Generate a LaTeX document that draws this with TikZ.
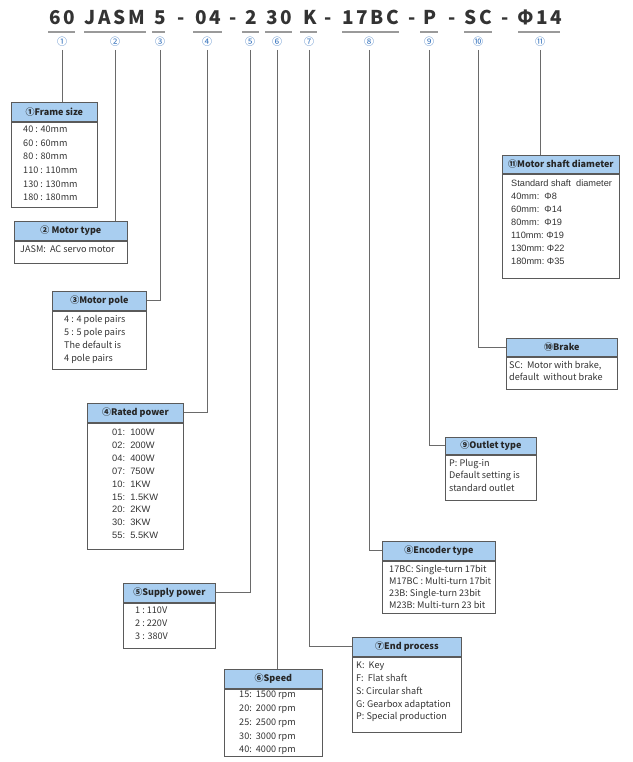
\documentclass[tikz,border=0pt]{standalone}
\usepackage{fontspec}
\setmainfont{Noto Sans CJK SC}
\newfontfamily\arialf{Liberation Sans}
\definecolor{hdrc}{HTML}{A9CEF0}
\definecolor{bordc}{HTML}{5A5A5A}
\definecolor{connc}{HTML}{6A6A6A}
\definecolor{ulc}{HTML}{9A9A9A}
\definecolor{codec}{HTML}{333333}
\definecolor{numc}{HTML}{2F6EBA}
\definecolor{txtc}{HTML}{333333}
\begin{document}
\begin{tikzpicture}[x=1pt,y=-1pt,
  hdr/.style={draw=bordc, fill=hdrc, line width=0.8pt, minimum height=19pt, inner sep=0pt, anchor=north west,
    font=\fontsize{9}{11}\selectfont\bfseries, text=black!85},
  bodyb/.style={draw=bordc, line width=0.8pt, inner sep=0pt, anchor=north west},
  bodyt/.style={inner sep=0pt, anchor=north west, align=left, text=txtc,
    font=\fontsize{9.1}{13}\selectfont},
  conn/.style={draw=connc, line width=0.9pt},
  uline/.style={draw=ulc, line width=1.3pt},
  code/.style={anchor=base, inner sep=0pt, text=codec,
    font=\fontsize{19}{19}\selectfont\bfseries\addfontfeature{LetterSpace=14}},
  num/.style={inner sep=0pt, text=numc, font=\fontsize{10}{10}\selectfont}
]
\useasboundingbox (0,0) rectangle (632,762);

% code line
\node[code] (k1) at (62,25) {60};
\node[code] (k2) at (115,25) {JASM};
\node[code] (k3) at (160,25) {5};
\node[code] (d1) at (181,25) {-};
\node[code] (k4) at (208,25) {04};
\node[code] (d2) at (233,25) {-};
\node[code] (k5) at (251,25) {2};
\node[code] (k6) at (279,25) {30};
\node[code] (k7) at (310,25) {K};
\node[code] (d3) at (328,25) {-};
\node[code] (k8) at (371,25) {17BC};
\node[code] (d4) at (412,25) {-};
\node[code] (k9) at (430,25) {P};
\node[code] (d5) at (452,25) {-};
\node[code] (k10) at (478,25) {SC};
\node[code] (d6) at (505,25) {-};
\node[code] (k11) at (540,25) {Φ14};

% underlines
\draw[uline] (48,32) -- (75,32);
\draw[uline] (84,32) -- (146,32);
\draw[uline] (152,32) -- (165,32);
\draw[uline] (193,32) -- (222,32);
\draw[uline] (242,32) -- (259,32);
\draw[uline] (265,32) -- (292,32);
\draw[uline] (300,32) -- (317,32);
\draw[uline] (342,32) -- (399,32);
\draw[uline] (420,32) -- (438,32);
\draw[uline] (464,32) -- (492,32);
\draw[uline] (518,32) -- (560,32);

% circled numbers
\node[num] (n1) at (62,42) {①};
\node[num] (n2) at (115,42) {②};
\node[num] (n3) at (160,42) {③};
\node[num] (n4) at (207,42) {④};
\node[num] (n5) at (250,42) {⑤};
\node[num] (n6) at (277,42) {⑥};
\node[num] (n7) at (309,42) {⑦};
\node[num] (n8) at (369,42) {⑧};
\node[num] (n9) at (429,42) {⑨};
\node[num] (n10) at (478,42) {⑩};
\node[num] (n11) at (540,42) {⑪};

\coordinate (c1) at (62,50);
\coordinate (c2) at (115,50);
\coordinate (c3) at (160,50);
\coordinate (c4) at (207,50);
\coordinate (c5) at (250,50);
\coordinate (c6) at (277,50);
\coordinate (c7) at (309,50);
\coordinate (c8) at (369,50);
\coordinate (c9) at (429,50);
\coordinate (c10) at (478,50);
\coordinate (c11) at (540,50);

% 1 Frame size
\node[hdr, minimum width=86pt] (h1) at (11,102) {①Frame size};
\node[bodyb, minimum width=86pt, minimum height=85pt] (b1) at (h1.south west) {};
\node[bodyt, font=\fontsize{9.1}{13.6}\selectfont] (t1) at ([xshift=12pt,yshift=-4pt]b1.north west) {40 : 40mm\\60 : 60mm\\80 : 80mm\\110 : 110mm\\130 : 130mm\\180 : 180mm};

% 2 Motor type
\node[hdr, minimum width=113pt] (h2) at (14,221) {② Motor type};
\node[bodyb, minimum width=113pt, minimum height=22pt] (b2) at (h2.south west) {};
\node[bodyt] (t2) at ([xshift=6pt,yshift=-5pt]b2.north west) {JASM:\ \ AC servo motor};

% 3 Motor pole
\node[hdr, minimum width=94pt] (h3) at (52,291) {③Motor pole};
\node[bodyb, minimum width=94pt, minimum height=58pt] (b3) at (h3.south west) {};
\node[bodyt] (t3) at ([xshift=12pt,yshift=-4pt]b3.north west) {4 : 4 pole pairs\\5 : 5 pole pairs\\The default is\\4 pole pairs};

% 4 Rated power
\node[hdr, minimum width=96pt] (h4) at (87,403) {④Rated power};
\node[bodyb, minimum width=96pt, minimum height=126pt] (b4) at (h4.south west) {};
\node[bodyt, font=\arialf\fontsize{9.3}{12.9}\selectfont] (t4) at ([xshift=25pt,yshift=-6pt]b4.north west) {01:\ \ 100W\\02:\ \ 200W\\04:\ \ 400W\\07:\ \ 750W\\10:\ \ 1KW\\15:\ \ 1.5KW\\20:\ \ 2KW\\30:\ \ 3KW\\55:\ \ 5.5KW};

% 5 Supply power
\node[hdr, minimum width=92pt] (h5) at (123,583) {⑤Supply power};
\node[bodyb, minimum width=92pt, minimum height=45pt] (b5) at (h5.south west) {};
\node[bodyt] (t5) at ([xshift=12pt,yshift=-4pt]b5.north west) {1 :\ 110V\\2 :\ 220V\\3 : 380V};

% 6 Speed
\node[hdr, minimum width=98pt] (h6) at (224,669) {⑥Speed};
\node[bodyb, minimum width=98pt, minimum height=67pt] (b6) at (h6.south west) {};
\node[bodyt, font=\fontsize{9.1}{13.8}\selectfont] (t6) at ([xshift=15pt,yshift=-2pt]b6.north west) {15:\ \ 1500 rpm\\20:\ \ 2000 rpm\\25:\ \ 2500 rpm\\30:\ \ 3000 rpm\\40:\ \ 4000 rpm};

% 7 End process
\node[hdr, minimum width=109pt] (h7) at (352,637) {⑦End process};
\node[bodyb, minimum width=109pt, minimum height=75pt] (b7) at (h7.south west) {};
\node[bodyt, font=\fontsize{9.1}{12.8}\selectfont] (t7) at ([xshift=4pt,yshift=-5pt]b7.north west) {K:\ \ Key\\F:\ \ Flat shaft\\S: Circular shaft\\G: Gearbox adaptation\\P: Special production};

% 8 Encoder type
\node[hdr, minimum width=113pt] (h8) at (382,541) {⑧Encoder type};
\node[bodyb, minimum width=113pt, minimum height=52pt] (b8) at (h8.south west) {};
\node[bodyt, font=\fontsize{9.1}{12}\selectfont] (t8) at ([xshift=7pt,yshift=-4pt]b8.north west) {17BC: Single-turn 17bit\\M17BC : Multi-turn 17bit\\23B: Single-turn 23bit\\M23B: Multi-turn 23 bit};

% 9 Outlet type
\node[hdr, minimum width=91pt, minimum height=17pt] (h9) at (445,437) {⑨Outlet type};
\node[bodyb, minimum width=91pt, minimum height=45pt] (b9) at (h9.south west) {};
\node[bodyt, font=\fontsize{9.1}{12.5}\selectfont] (t9) at ([xshift=4pt,yshift=-4pt]b9.north west) {P: Plug-in\\Default setting is\\standard outlet};

% 10 Brake
\node[hdr, minimum width=111pt, minimum height=18pt] (h10) at (506,338) {⑩Brake};
\node[bodyb, minimum width=111pt, minimum height=32pt] (b10) at (h10.south west) {};
\node[bodyt, font=\fontsize{9.1}{12.5}\selectfont] (t10) at ([xshift=3pt,yshift=-4pt]b10.north west) {SC:\ \ Motor with brake,\\default\ \ without brake};

% 11 Motor shaft diameter
\node[hdr, minimum width=117pt, minimum height=18pt] (h11) at (502,155) {⑪Motor shaft diameter};
\node[bodyb, minimum width=117pt, minimum height=104pt] (b11) at (h11.south west) {};
\node[bodyt, font=\arialf\fontsize{9.2}{13}\selectfont] (t11) at ([xshift=9pt,yshift=-6pt]b11.north west) {Standard shaft\ \ diameter\\40mm:\ \ Φ8\\60mm:\ \ Φ14\\80mm:\ \ Φ19\\110mm:\ Φ19\\130mm:\ Φ22\\180mm:\ Φ35};

% connectors
\draw[conn] (c1) -- (c1 |- h1.north);
\draw[conn] (c2) -- (c2 |- h2.north);
\draw[conn] (c3) |- (h3.east);
\draw[conn] (c4) |- (h4.east);
\draw[conn] (c5) |- (h5.east);
\draw[conn] (c6) -- (c6 |- h6.north);
\draw[conn] (c7) |- (h7.west);
\draw[conn] (c8) |- (h8.west);
\draw[conn] (c9) |- (h9.west);
\draw[conn] (c10) |- (h10.west);
\draw[conn] (c11) -- (c11 |- h11.north);
\end{tikzpicture}
\end{document}
